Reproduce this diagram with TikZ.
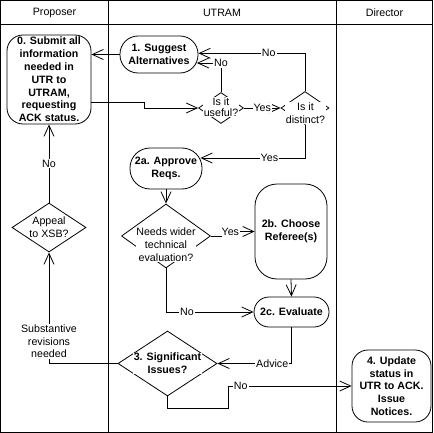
\documentclass[tikz,border=0pt]{standalone}
\usepackage{fontspec}
\setmainfont{Liberation Sans}
\usetikzlibrary{shapes.geometric,arrows.meta,calc}
\begin{document}
\begin{tikzpicture}[x=1pt,y=-1pt, line width=0.8pt,
  every node/.style={font=\fontsize{10.67}{12.8}\selectfont, inner sep=0pt},
  proc/.style={draw, rectangle, align=center, font=\fontsize{10.67}{12.8}\selectfont\bfseries},
  dia/.style={draw, diamond, inner sep=0pt},
  dtext/.style={fill=white, align=center, inner sep=0.5pt},
  btext/.style={dtext, font=\fontsize{10.67}{12.8}\selectfont\bfseries},
  lab/.style={fill=white, inner sep=1pt, align=center},
  arr/.style={-{Straight Barb[length=11pt,width=10pt]}},
]
\useasboundingbox (0,0) rectangle (433,433);
% swimlanes
\draw (0.5,0.5) rectangle (432.5,432.5);
\draw (0.5,24.5) -- (432.5,24.5);
\draw (108.5,0.5) -- (108.5,432.5);
\draw (336.5,0.5) -- (336.5,432.5);
\node (hP) at (54.5,12.5) {Proposer};
\node (hU) at (222,12.5) {UTRAM};
\node (hD) at (384.5,12.5) {Director};

% process nodes
\node[proc, rounded corners=16pt, minimum width=84pt, minimum height=89pt] (n0) at (49,79.5)
  {0. Submit all\\information\\needed in\\UTR to\\UTRAM,\\requesting\\ACK status.};
\node[proc, rounded corners=18pt, minimum width=78pt, minimum height=37pt] (n1) at (159,54.5)
  {1. Suggest\\Alternatives};
\node[proc, rounded corners=20pt, minimum width=72pt, minimum height=41pt] (n2a) at (166,168.5)
  {2a. Approve\\Reqs.};
\node[proc, rounded corners=22pt, minimum width=72pt, minimum height=95pt] (n2b) at (291,231.5)
  {2b. Choose\\Referee(s)};
\node[proc, rounded corners=15pt, minimum width=75pt, minimum height=30pt] (n2c) at (291.5,312)
  {2c. Evaluate};
\node[proc, rounded corners=16pt, minimum width=79pt, minimum height=72pt] (n4) at (391.5,386)
  {4. Update\\status in\\UTR to ACK.\\Issue\\Notices.};

% decisions
\node[dia, minimum width=45pt, minimum height=31pt] (useful) at (221,108) {};
\node[dia, minimum width=48pt, minimum height=33pt] (distinct) at (305,108) {};
\node[dia, minimum width=74pt, minimum height=49pt] (appeal) at (49,227.5) {};
\node[dia, minimum width=89pt, minimum height=64pt] (needs) at (166,236) {};
\node[dia, minimum width=99pt, minimum height=65pt] (sig) at (167.5,363.5) {};

\node[dtext] (usefulT) at ($(useful)+(0,-1)$) {Is it\\[-1.8pt]useful?};
\node[dtext] (distinctT) at ($(distinct)+(0.5,5)$) {Is it\\distinct?};
\node[dtext] (appealT) at (appeal) {Appeal\\to XSB?};
\node[dtext] (needsT) at ($(needs)+(0,8.5)$) {Needs wider\\technical\\evaluation?};
\node[btext] (sigT) at (sig) {3. Significant\\Issues?};

% connectors
\draw[arr] (n1.west) -- (n1.west -| n0.east);
\draw[arr] ($(n0.east)+(0,22.5)$) -- ++(53,0) |- (useful.west);
\draw[arr] (useful.north) |- node[lab, pos=0.5] {No} ($(n1.east)+(-1.5,8.5)$);
\draw[arr] (distinct.north) |- node[lab, pos=0.67] {No} ($(n1.east)+(0,-1.2)$);
\draw[arr] (useful.east) -- node[lab] {Yes} (distinct.west);
\draw[arr] (distinct.south) |- node[lab, pos=0.67] {Yes} ($(n2a.east)+(-2,-10.5)$);
\draw[arr] (n2a.south) -- (needs.north);
\draw[arr] (needs.east) -- ++(10,0) |- node[lab, pos=0.64] {Yes} (n2b.west);
\draw[arr] (n2b.south) -- (n2c.north);
\draw[arr] (needs.south) |- node[lab, pos=0.62] {No} (n2c.west);
\draw[arr] (n2c.south) |- node[lab, pos=0.63] {Advice} (sig.east);
\draw[arr] (sig.west) -| node[lab, pos=0.6] {Substantive\\revisions\\needed} (appeal.south);
\draw[arr] (appeal.north) -- node[lab] {No} (n0.south);
\draw[arr] (sig.south) -- ++(0,12) -- ++(61,0) |- node[lab, pos=0.55] {No} (n4.west);
\end{tikzpicture}
\end{document}
